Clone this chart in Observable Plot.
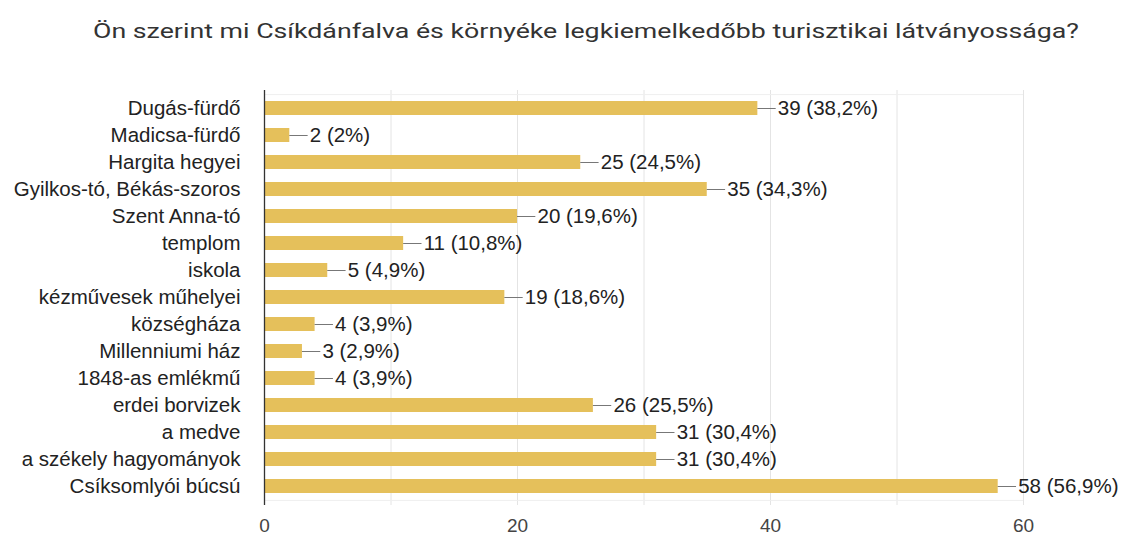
<!DOCTYPE html>
<html>
<head>
<meta charset="utf-8">
<script src="https://cdn.jsdelivr.net/npm/d3@7"></script>
<script src="https://cdn.jsdelivr.net/npm/@observablehq/plot@0.6"></script>
<style>
  html, body { margin: 0; padding: 0; background: #fff; overflow: hidden; }
  #title {
    box-sizing: border-box;
    height: 60px;
    padding-top: 19px;
    padding-left: 93px;
    font-family: Roboto, "Liberation Sans", Arial, sans-serif;
    font-size: 21px;
    font-weight: 400;
    line-height: 24px;
    color: #333;
    white-space: nowrap;
    overflow: visible;
  }
  #title span { display: inline-block; transform-origin: left center; }
  svg { display: block; }
</style>
</head>
<body>
<div id="title"><span>Ön szerint mi Csíkdánfalva és környéke legkiemelkedőbb turisztikai látványossága?</span></div>
<div id="chart"></div>
<script>
const categories = [
  "Dugás-fürdő",
  "Madicsa-fürdő",
  "Hargita hegyei",
  "Gyilkos-tó, Békás-szoros",
  "Szent Anna-tó",
  "templom",
  "iskola",
  "kézművesek műhelyei",
  "községháza",
  "Millenniumi ház",
  "1848-as emlékmű",
  "erdei borvizek",
  "a medve",
  "a székely hagyományok",
  "Csíksomlyói búcsú"
];
const counts = [39, 2, 25, 35, 20, 11, 5, 19, 4, 3, 4, 26, 31, 31, 58];
const percents = ["38,2", "2", "24,5", "34,3", "19,6", "10,8", "4,9", "18,6", "3,9", "2,9", "3,9", "25,5", "30,4", "30,4", "56,9"];
const xTickLabels = [0, 20, 40, 60];
const gridValues = [10, 20, 30, 40, 50, 60];

const data = categories.map((name, i) => ({name, value: counts[i], label: `${counts[i]} (${percents[i]}%)`}));

const connector = 1.45; // short leader line length, in value units

const chart = Plot.plot({
  width: 1139,
  height: 475,
  marginTop: 30,
  marginBottom: 30,
  marginLeft: 264,
  marginRight: 116,
  style: {fontFamily: "'Liberation Sans', Arial, sans-serif", fontSize: "20px", color: "#222", background: "#fff", maxWidth: "none"},
  x: {domain: [0, 60]},
  y: {domain: categories, paddingInner: 0.47, paddingOuter: 0.235},
  marks: [
    Plot.ruleX(gridValues, {stroke: "#e4e4e4", strokeWidth: 1}),
    Plot.ruleY([categories[0]], {stroke: "#efefef", dy: -13.9}),
    Plot.ruleY([categories[categories.length - 1]], {stroke: "#efefef", dy: 13.9}),
    Plot.barX(data, {y: "name", x: "value", fill: "#e5c05b"}),
    Plot.ruleY(data, {y: "name", x1: "value", x2: d => d.value + connector, stroke: "#777", strokeWidth: 1}),
    Plot.text(data, {y: "name", x: "value", text: "label", dx: 20, textAnchor: "start", fill: "#222", fontSize: 20.5}),
    Plot.ruleX([0], {stroke: "#333", strokeWidth: 1.3}),
    Plot.axisX(xTickLabels, {tickSize: 0, tickPadding: 13, fontSize: 19, fill: "#444", label: null}),
    Plot.axisY({tickSize: 0, tickPadding: 24, fontSize: 20.5, fill: "#222", label: null})
  ]
});
document.getElementById("chart").appendChild(chart);

// fit title width to the reference span
const span = document.querySelector("#title span");
const w = span.getBoundingClientRect().width;
const target = 986;
span.style.transform = `scaleX(${target / w})`;
</script>
</body>
</html>
